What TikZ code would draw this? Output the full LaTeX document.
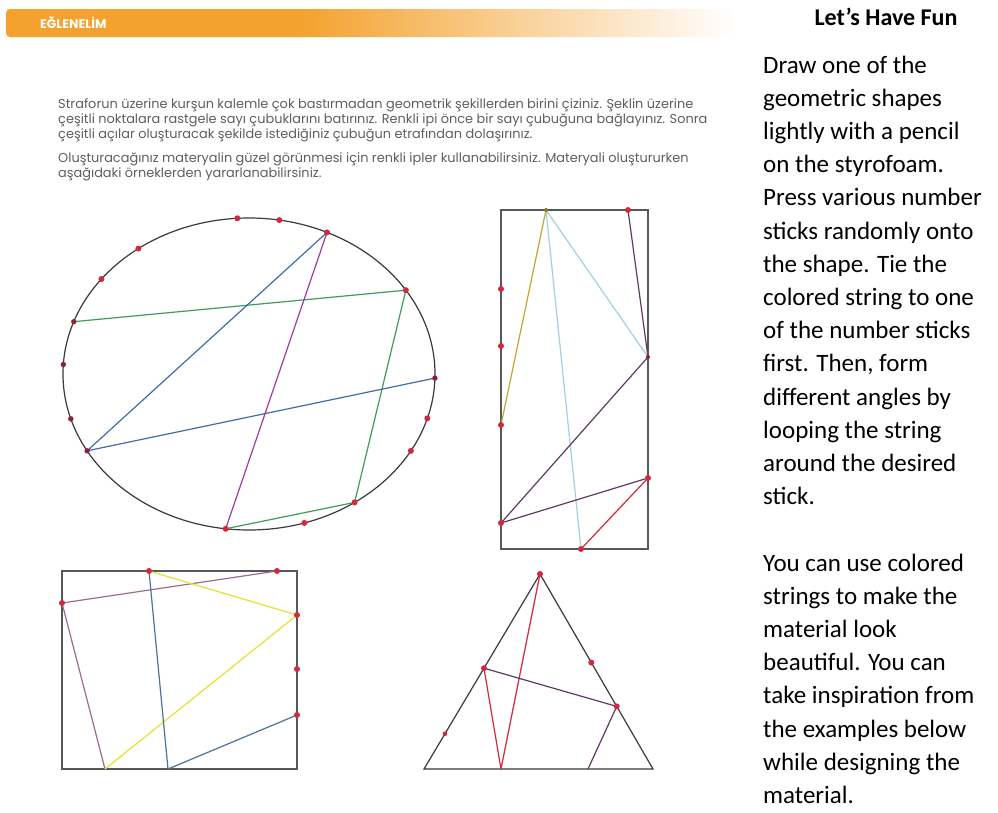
\documentclass[tikz,border=0pt]{standalone}
\usepackage{fontspec}
\setmainfont{Carlito}
\newfontfamily\trfont{Poppins}
\usetikzlibrary{calc}
\definecolor{hdrorange}{HTML}{F4A12E}
\definecolor{outline}{HTML}{3A3A3A}
\definecolor{pegred}{HTML}{D3283C}
\definecolor{pegdark}{HTML}{8C2236}
\definecolor{strgreen}{HTML}{3F9B5C}
\definecolor{strblue}{HTML}{3F6EA6}
\definecolor{strpurple}{HTML}{9B3F9B}
\definecolor{strgold}{HTML}{C7A530}
\definecolor{strsky}{HTML}{A3D0E0}
\definecolor{strplum}{HTML}{5F3A62}
\definecolor{strred}{HTML}{D4263E}
\definecolor{strmauve}{HTML}{9C6D92}
\definecolor{stryellow}{HTML}{E6E12C}
\definecolor{strsteel}{HTML}{4D7298}
\definecolor{trgray}{HTML}{5E5E5E}
\pgfdeclarehorizontalshading{hdrshade}{100bp}{color(0bp)=(hdrorange); color(25bp)=(hdrorange); color(45bp)=(hdrorange); color(75bp)=(white); color(100bp)=(white)}
\begin{document}
\begin{tikzpicture}[x=1pt,y=-1pt,
  shapeline/.style={draw=outline, line width=1.2pt},
  boxline/.style={draw=outline!85, line width=1.6pt},
  string/.style={line width=1.2pt, line join=round},
  trline/.style={anchor=base west, inner sep=0pt, text=trgray, font=\trfont\fontsize{12.9}{14}\selectfont},
  bodytxt/.style={anchor=base west, inner sep=0pt, font=\fontsize{25}{30}\selectfont}]
\useasboundingbox (0,0) rectangle (998,812);
\fill[white] (0,0) rectangle (998,812);

% header bar
\shade[shading=hdrshade, rounded corners=4pt] (6,9) rectangle (735,37);
\node[anchor=base west, inner sep=0pt, text=white, font=\trfont\bfseries\fontsize{12.5}{14}\selectfont] (hdr) at (40,28) {EĞLENELİM};

% Turkish instructions
\node[trline] (tr1) at (58,108) {Straforun üzerine kurşun kalemle çok bastırmadan geometrik şekillerden birini çiziniz. Şeklin üzerine};
\node[trline] (tr2) at (58,123) {çeşitli noktalara rastgele sayı çubuklarını batırınız. Renkli ipi önce bir sayı çubuğuna bağlayınız. Sonra};
\node[trline] (tr3) at (58,138) {çeşitli açılar oluşturacak şekilde istediğiniz çubuğun etrafından dolaşırınız.};
\node[trline] (tr4) at (58,162) {Oluşturacağınız materyalin güzel görünmesi için renkli ipler kullanabilirsiniz. Materyali oluştururken};
\node[trline] (tr5) at (58,177) {aşağıdaki örneklerden yararlanabilirsiniz.};

% right column
\node[anchor=base, inner sep=0pt, font=\bfseries\fontsize{24}{30}\selectfont] (title) at (886,25) {Let’s Have Fun};
\foreach \t [count=\i from 0] in {Draw one of the, geometric shapes, lightly with a pencil, on the styrofoam., Press various number, sticks randomly onto, the shape. Tie the, colored string to one, of the number sticks, {first. Then, form}, different angles by, looping the string, around the desired, stick.}
  \node[bodytxt] (pa\i) at (763,{73+33.2*\i}) {\t};
\foreach \t [count=\i from 0] in {You can use colored, strings to make the, material look, beautiful. You can, take inspiration from, the examples below, while designing the, material.}
  \node[bodytxt] (pb\i) at (763,{73+33.2*(15+\i)}) {\t};

% ---------- ellipse ----------
\draw[shapeline] (249,374) ellipse [x radius=186pt, y radius=156pt];
\foreach \n/\a in {1/93.6, 2/80.6, 3/65.2, 4/126.5, 5/142.5, 6/160.4, 7/176.5, 8/196.7, 9/209.5, 10/262.8, 11/287.3, 12/304.6, 13/330.5, 14/343.5, 15/358.5, 16/32.5}
  \coordinate (e\n) at ({249+186*cos(\a)},{374-156*sin(\a)});
\draw[string, strgreen] (e6) -- (e16) -- (e12) -- (e10);
\draw[string, strblue] (e3) -- (e9) -- (e15);
\draw[string, strpurple] (e3) -- (e10);
\foreach \n in {1,2,3,4,5,10,11,12,13,14,16} \fill[pegred] (e\n) circle[radius=3pt];
\foreach \n in {6,7,8,9,15} \fill[pegdark] (e\n) circle[radius=2.7pt];

% ---------- tall rectangle ----------
\draw[boxline] (501,210) rectangle (648,549);
\coordinate (ra) at (546,210);
\coordinate (rb) at (628,210);
\coordinate (rc) at (501,289);
\coordinate (rd) at (501,346);
\coordinate (re) at (501,425);
\coordinate (rf) at (648,357);
\coordinate (rg) at (501,523);
\coordinate (rh) at (648,478);
\coordinate (ri) at (581,549);
\draw[string, strgold] (ra) -- (re);
\draw[string, strsky] (rf) -- (ra) -- (ri);
\draw[string, strplum] (rb) -- (rf) -- (rg) -- (rh);
\draw[string, strred] (rh) -- (ri);
\foreach \n in {rb,rc,rd,re,rg,rh,ri} \fill[pegred] (\n) circle[radius=3pt];
\fill[pegdark] (rf) circle[radius=2pt];
\fill[strgold!70!black] (ra) circle[radius=2pt];

% ---------- wide rectangle ----------
\draw[boxline] (62,571) rectangle (297,769);
\coordinate (p1) at (149,571);
\coordinate (p2) at (277,571);
\coordinate (p3) at (62,603);
\coordinate (p4) at (297,615);
\coordinate (p5) at (297,669);
\coordinate (p6) at (297,715);
\coordinate (p7) at (105,769);
\coordinate (p8) at (168,769);
\draw[string, strmauve] (p2) -- (p3) -- (p7);
\draw[string, stryellow] (p1) -- (p4) -- (p7);
\draw[string, strsteel] (p1) -- (p8) -- (p6);
\foreach \n in {p1,p2,p3,p4,p5,p6} \fill[pegred] (\n) circle[radius=3pt];

% ---------- triangle ----------
\coordinate (t1) at (540,574);
\coordinate (tl) at (424,769);
\coordinate (tr) at (653,769);
\draw[shapeline, line join=miter] (t1) -- (tl) -- (tr) -- cycle;
\coordinate (t2) at ($(t1)!0.454!(tr)$);
\coordinate (t3) at ($(t1)!0.483!(tl)$);
\coordinate (t4) at ($(t1)!0.679!(tr)$);
\coordinate (t5) at ($(t1)!0.819!(tl)$);
\coordinate (t6) at (501,769);
\coordinate (t7) at (588,769);
\draw[string, strred] (t1) -- (t6) -- (t3);
\draw[string, strplum] (t3) -- (t4) -- (t7);
\foreach \n in {t1,t2,t3,t4} \fill[pegred] (\n) circle[radius=3pt];
\fill[pegred] (t5) circle[radius=2.3pt];
\end{tikzpicture}
\end{document}
